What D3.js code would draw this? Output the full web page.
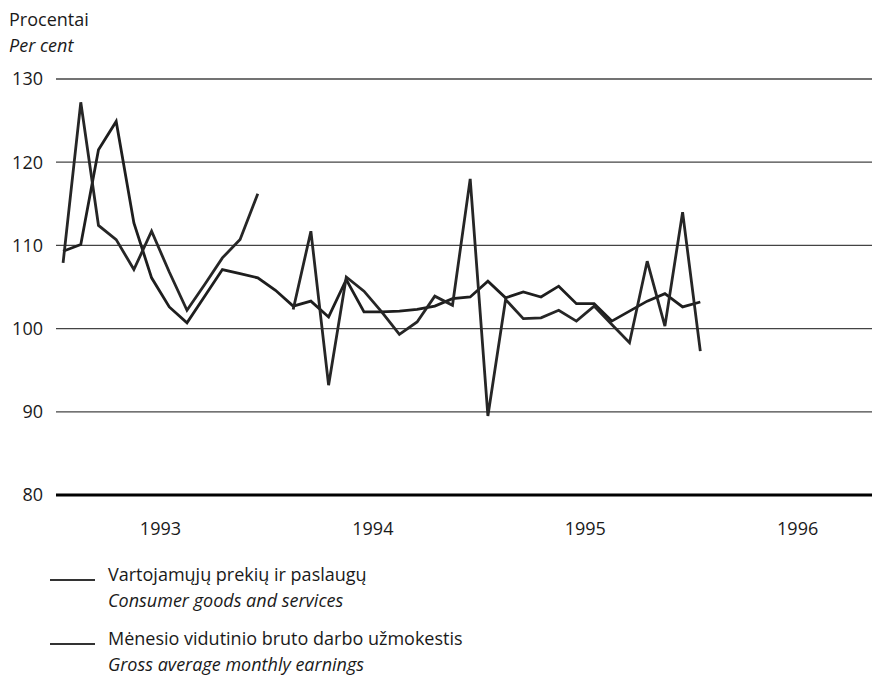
<!DOCTYPE html>
<html>
<head>
<meta charset="utf-8">
<script src="https://cdn.jsdelivr.net/npm/d3@7"></script>
<style>
  body { margin: 0; background: #fff; }
  text { font-family: "Open Sans", Lato, sans-serif; fill: #1a1a1a; }
</style>
</head>
<body>
<svg id="chart" width="874" height="679"></svg>
<script>
// monthly indices, previous month = 100, Jan 1993 .. Jan 1996
const years = [1993, 1994, 1995, 1996];
const cpi = [109.3, 110.1, 121.5, 124.9, 112.7, 106.1, 102.6, 100.7, 103.9, 107.1, 106.6, 106.1,
             104.6, 102.7, 103.3, 101.4, 105.9, 102.0, 102.0, 102.1, 102.3, 102.7, 103.6, 103.8,
             105.7, 103.7, 104.4, 103.8, 105.1, 103.0, 103.0, 100.9, 102.1, 103.3, 104.2, 102.6,
             103.2];
const earnings = [107.9, 127.2, 112.4, 110.7, 107.1, 111.7, 106.8, 102.2, 105.3, 108.5, 110.7, 116.2,
                  null, 102.3, 111.7, 93.2, 106.2, 104.5, 102.0, 99.3, 100.8, 103.9, 102.8, 118.0,
                  89.5, 103.5, 101.2, 101.3, 102.2, 100.9, 102.7, 100.5, 98.3, 108.1, 100.3, 114.0,
                  97.3];
const yTicks = [80, 90, 100, 110, 120, 130];
const seriesLt = ["Vartojamųjų prekių ir paslaugų", "Mėnesio vidutinio bruto darbo užmokestis"];
const seriesEn = ["Consumer goods and services", "Gross average monthly earnings"];

const svg = d3.select("#chart");
const fs = 18;

const x = d3.scaleLinear().domain([-0.4, 45.7]).range([56, 872]);
const y = d3.scaleLinear().domain([80, 130]).range([495, 79]);

// axis title
svg.append("text").attr("x", 9).attr("y", 26).attr("font-size", fs).text("Procentai");
svg.append("text").attr("x", 9).attr("y", 52).attr("font-size", fs)
  .attr("font-style", "italic").text("Per cent");

// horizontal grid + labels
const grid = svg.append("g");
grid.selectAll("line")
  .data(yTicks)
  .enter().append("line")
    .attr("x1", x.range()[0]).attr("x2", x.range()[1])
    .attr("y1", d => y(d)).attr("y2", d => y(d))
    .attr("stroke", d => d === 80 ? "#000" : "#444")
    .attr("stroke-width", d => d === 80 ? 3 : 1.3);

grid.selectAll("text")
  .data(yTicks)
  .enter().append("text")
    .attr("x", 43).attr("y", d => y(d))
    .attr("dy", "0.36em")
    .attr("text-anchor", "end")
    .attr("font-size", fs)
    .text(d => d);

// year labels sit in the middle of each year
svg.append("g").selectAll("text")
  .data(years)
  .enter().append("text")
    .attr("x", (d, i) => x(i * 12 + 5.5))
    .attr("y", 535)
    .attr("text-anchor", "middle")
    .attr("font-size", fs)
    .text(d => d);

const line = d3.line()
  .defined(d => d != null)
  .x((d, i) => x(i))
  .y(d => y(d));

svg.append("g")
    .attr("fill", "none")
    .attr("stroke-width", 2.8)
    .attr("stroke-linejoin", "miter")
  .selectAll("path")
  .data([cpi, earnings])
  .enter().append("path")
    .attr("stroke", (d, i) => i === 0 ? "#1e1e1e" : "#262626")
    .attr("d", line);

// legend
const legend = svg.append("g")
  .selectAll("g")
  .data(seriesLt)
  .enter().append("g")
    .attr("transform", (d, i) => "translate(0," + (i * 64) + ")");

legend.append("line")
  .attr("x1", 50).attr("x2", 95)
  .attr("y1", 580).attr("y2", 580)
  .attr("stroke", "#333")
  .attr("stroke-width", 2);

legend.append("text")
  .attr("x", 108).attr("y", 581)
  .attr("font-size", fs)
  .text(d => d);

legend.append("text")
  .attr("x", 108).attr("y", 607)
  .attr("font-size", fs)
  .attr("font-style", "italic")
  .text((d, i) => seriesEn[i]);
</script>
</body>
</html>
